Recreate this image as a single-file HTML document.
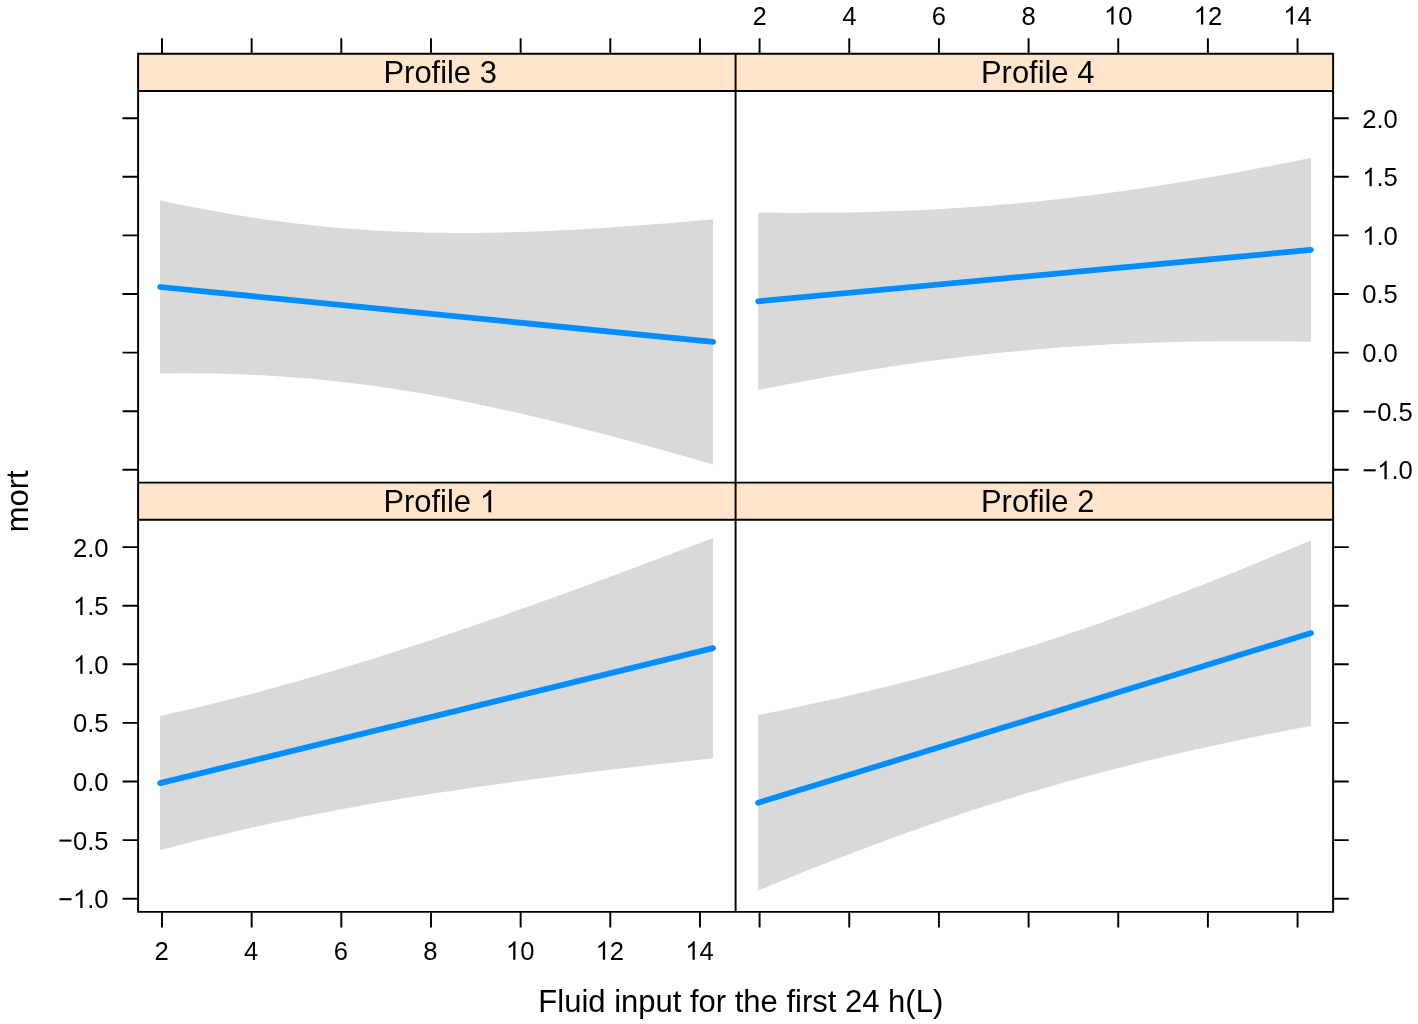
<!DOCTYPE html>
<html><head><meta charset="utf-8"><title>mort vs fluid input</title>
<style>
html,body{margin:0;padding:0;background:#fff;}
body{width:1418px;height:1024px;overflow:hidden;}
svg{display:block;will-change:transform;}
text{font-family:"Liberation Sans",sans-serif;fill:#000;}
.t{font-size:25.6px;}
.l{font-size:31.0px;}
.s{font-size:30.9px;}
.h{fill:none;}
.k{stroke:#000;stroke-width:1.94;fill:none;stroke-linecap:butt;}
</style></head><body>
<svg width="1418" height="1024" viewBox="0 0 1418 1024">
<rect x="0" y="0" width="1418" height="1024" fill="#fff"/>
<rect x="138.1" y="53.75" width="597.50" height="37.25" fill="#FFE5CC"/>
<rect x="138.1" y="482.6" width="597.50" height="37.20" fill="#FFE5CC"/>
<rect x="735.6" y="53.75" width="597.50" height="37.25" fill="#FFE5CC"/>
<rect x="735.6" y="482.6" width="597.50" height="37.20" fill="#FFE5CC"/>
<path d="M160.13,200.54 L167.04,201.99 L173.95,203.42 L180.87,204.81 L187.78,206.18 L194.69,207.52 L201.60,208.84 L208.51,210.12 L215.43,211.37 L222.34,212.58 L229.25,213.77 L236.16,214.92 L243.08,216.04 L249.99,217.13 L256.90,218.18 L263.81,219.19 L270.72,220.17 L277.64,221.12 L284.55,222.03 L291.46,222.90 L298.37,223.73 L305.28,224.53 L312.20,225.29 L319.11,226.02 L326.02,226.70 L332.93,227.35 L339.85,227.96 L346.76,228.54 L353.67,229.08 L360.58,229.58 L367.49,230.04 L374.41,230.47 L381.32,230.86 L388.23,231.22 L395.14,231.54 L402.05,231.83 L408.97,232.08 L415.88,232.30 L422.79,232.49 L429.70,232.64 L436.62,232.77 L443.53,232.86 L450.44,232.92 L457.35,232.95 L464.26,232.95 L471.18,232.93 L478.09,232.88 L485.00,232.80 L491.91,232.69 L498.82,232.56 L505.74,232.40 L512.65,232.22 L519.56,232.02 L526.47,231.79 L533.38,231.55 L540.30,231.28 L547.21,230.99 L554.12,230.68 L561.03,230.35 L567.95,230.00 L574.86,229.63 L581.77,229.25 L588.68,228.84 L595.59,228.43 L602.51,227.99 L609.42,227.54 L616.33,227.08 L623.24,226.60 L630.15,226.11 L637.07,225.60 L643.98,225.08 L650.89,224.55 L657.80,224.00 L664.72,223.45 L671.63,222.88 L678.54,222.30 L685.45,221.71 L692.36,221.11 L699.28,220.50 L706.19,219.88 L713.10,219.25 L713.10,464.45 L706.19,462.45 L699.28,460.46 L692.36,458.48 L685.45,456.51 L678.54,454.54 L671.63,452.59 L664.72,450.65 L657.80,448.73 L650.89,446.81 L643.98,444.91 L637.07,443.02 L630.15,441.14 L623.24,439.27 L616.33,437.42 L609.42,435.59 L602.51,433.77 L595.59,431.96 L588.68,430.17 L581.77,428.40 L574.86,426.64 L567.95,424.91 L561.03,423.19 L554.12,421.49 L547.21,419.80 L540.30,418.14 L533.38,416.50 L526.47,414.88 L519.56,413.29 L512.65,411.71 L505.74,410.16 L498.82,408.63 L491.91,407.13 L485.00,405.65 L478.09,404.20 L471.18,402.78 L464.26,401.38 L457.35,400.01 L450.44,398.67 L443.53,397.36 L436.62,396.08 L429.70,394.84 L422.79,393.62 L415.88,392.44 L408.97,391.28 L402.05,390.17 L395.14,389.08 L388.23,388.03 L381.32,387.02 L374.41,386.04 L367.49,385.10 L360.58,384.19 L353.67,383.32 L346.76,382.48 L339.85,381.69 L332.93,380.93 L326.02,380.21 L319.11,379.52 L312.20,378.87 L305.28,378.26 L298.37,377.69 L291.46,377.15 L284.55,376.65 L277.64,376.19 L270.72,375.77 L263.81,375.37 L256.90,375.02 L249.99,374.70 L243.08,374.41 L236.16,374.16 L229.25,373.94 L222.34,373.76 L215.43,373.60 L208.51,373.48 L201.60,373.39 L194.69,373.33 L187.78,373.30 L180.87,373.30 L173.95,373.33 L167.04,373.38 L160.13,373.46Z" fill="#D9D9D9"/>
<path d="M758.13,212.70 L765.04,212.77 L771.95,212.82 L778.86,212.86 L785.77,212.88 L792.68,212.89 L799.59,212.89 L806.50,212.87 L813.41,212.84 L820.32,212.78 L827.23,212.72 L834.14,212.63 L841.05,212.53 L847.96,212.42 L854.87,212.28 L861.78,212.13 L868.69,211.96 L875.60,211.77 L882.51,211.56 L889.42,211.33 L896.34,211.08 L903.25,210.82 L910.16,210.53 L917.07,210.22 L923.98,209.89 L930.89,209.55 L937.80,209.18 L944.71,208.78 L951.62,208.37 L958.53,207.94 L965.44,207.48 L972.35,207.00 L979.26,206.50 L986.17,205.97 L993.08,205.43 L999.99,204.86 L1006.90,204.27 L1013.81,203.65 L1020.72,203.02 L1027.63,202.36 L1034.54,201.67 L1041.45,200.97 L1048.36,200.24 L1055.27,199.49 L1062.18,198.72 L1069.09,197.92 L1076.00,197.11 L1082.91,196.27 L1089.82,195.41 L1096.73,194.52 L1103.64,193.62 L1110.55,192.69 L1117.46,191.75 L1124.37,190.78 L1131.28,189.79 L1138.19,188.78 L1145.10,187.76 L1152.01,186.71 L1158.92,185.64 L1165.83,184.55 L1172.74,183.45 L1179.66,182.33 L1186.57,181.19 L1193.48,180.03 L1200.39,178.85 L1207.30,177.66 L1214.21,176.45 L1221.12,175.22 L1228.03,173.98 L1234.94,172.72 L1241.85,171.45 L1248.76,170.16 L1255.67,168.85 L1262.58,167.54 L1269.49,166.21 L1276.40,164.86 L1283.31,163.50 L1290.22,162.13 L1297.13,160.75 L1304.04,159.35 L1310.95,157.94 L1310.95,341.86 L1304.04,341.74 L1297.13,341.62 L1290.22,341.52 L1283.31,341.44 L1276.40,341.36 L1269.49,341.30 L1262.58,341.26 L1255.67,341.23 L1248.76,341.21 L1241.85,341.20 L1234.94,341.22 L1228.03,341.24 L1221.12,341.29 L1214.21,341.34 L1207.30,341.42 L1200.39,341.51 L1193.48,341.62 L1186.57,341.74 L1179.66,341.89 L1172.74,342.05 L1165.83,342.23 L1158.92,342.43 L1152.01,342.65 L1145.10,342.88 L1138.19,343.14 L1131.28,343.42 L1124.37,343.72 L1117.46,344.03 L1110.55,344.37 L1103.64,344.73 L1096.73,345.11 L1089.82,345.51 L1082.91,345.94 L1076.00,346.38 L1069.09,346.85 L1062.18,347.34 L1055.27,347.85 L1048.36,348.39 L1041.45,348.95 L1034.54,349.53 L1027.63,350.13 L1020.72,350.75 L1013.81,351.40 L1006.90,352.07 L999.99,352.77 L993.08,353.48 L986.17,354.22 L979.26,354.98 L972.35,355.77 L965.44,356.57 L958.53,357.40 L951.62,358.25 L944.71,359.12 L937.80,360.01 L930.89,360.93 L923.98,361.87 L917.07,362.82 L910.16,363.80 L903.25,364.80 L896.34,365.82 L889.42,366.85 L882.51,367.91 L875.60,368.99 L868.69,370.08 L861.78,371.20 L854.87,372.33 L847.96,373.48 L841.05,374.65 L834.14,375.83 L827.23,377.03 L820.32,378.25 L813.41,379.48 L806.50,380.73 L799.59,382.00 L792.68,383.28 L785.77,384.58 L778.86,385.89 L771.95,387.21 L765.04,388.55 L758.13,389.90Z" fill="#D9D9D9"/>
<path d="M160.13,715.96 L167.04,714.42 L173.95,712.85 L180.87,711.27 L187.78,709.66 L194.69,708.03 L201.60,706.38 L208.51,704.71 L215.43,703.01 L222.34,701.29 L229.25,699.56 L236.16,697.80 L243.08,696.01 L249.99,694.21 L256.90,692.39 L263.81,690.54 L270.72,688.67 L277.64,686.78 L284.55,684.87 L291.46,682.94 L298.37,680.99 L305.28,679.02 L312.20,677.03 L319.11,675.02 L326.02,672.99 L332.93,670.95 L339.85,668.88 L346.76,666.79 L353.67,664.69 L360.58,662.57 L367.49,660.43 L374.41,658.27 L381.32,656.10 L388.23,653.91 L395.14,651.70 L402.05,649.48 L408.97,647.24 L415.88,644.99 L422.79,642.72 L429.70,640.44 L436.62,638.14 L443.53,635.83 L450.44,633.50 L457.35,631.17 L464.26,628.82 L471.18,626.45 L478.09,624.08 L485.00,621.69 L491.91,619.29 L498.82,616.88 L505.74,614.46 L512.65,612.03 L519.56,609.59 L526.47,607.13 L533.38,604.67 L540.30,602.20 L547.21,599.72 L554.12,597.23 L561.03,594.73 L567.95,592.22 L574.86,589.70 L581.77,587.18 L588.68,584.64 L595.59,582.10 L602.51,579.56 L609.42,577.00 L616.33,574.44 L623.24,571.87 L630.15,569.29 L637.07,566.71 L643.98,564.12 L650.89,561.52 L657.80,558.92 L664.72,556.31 L671.63,553.69 L678.54,551.07 L685.45,548.45 L692.36,545.82 L699.28,543.18 L706.19,540.54 L713.10,537.90 L713.10,758.30 L706.19,759.03 L699.28,759.77 L692.36,760.51 L685.45,761.25 L678.54,762.00 L671.63,762.76 L664.72,763.52 L657.80,764.28 L650.89,765.06 L643.98,765.83 L637.07,766.62 L630.15,767.41 L623.24,768.21 L616.33,769.01 L609.42,769.83 L602.51,770.64 L595.59,771.47 L588.68,772.31 L581.77,773.15 L574.86,774.00 L567.95,774.86 L561.03,775.72 L554.12,776.60 L547.21,777.48 L540.30,778.37 L533.38,779.28 L526.47,780.19 L519.56,781.11 L512.65,782.05 L505.74,782.99 L498.82,783.94 L491.91,784.91 L485.00,785.88 L478.09,786.87 L471.18,787.87 L464.26,788.88 L457.35,789.91 L450.44,790.95 L443.53,792.00 L436.62,793.06 L429.70,794.14 L422.79,795.23 L415.88,796.34 L408.97,797.46 L402.05,798.60 L395.14,799.75 L388.23,800.92 L381.32,802.10 L374.41,803.31 L367.49,804.52 L360.58,805.76 L353.67,807.01 L346.76,808.28 L339.85,809.57 L332.93,810.88 L326.02,812.21 L319.11,813.55 L312.20,814.92 L305.28,816.30 L298.37,817.71 L291.46,819.13 L284.55,820.58 L277.64,822.04 L270.72,823.53 L263.81,825.04 L256.90,826.56 L249.99,828.11 L243.08,829.69 L236.16,831.28 L229.25,832.89 L222.34,834.53 L215.43,836.19 L208.51,837.87 L201.60,839.57 L194.69,841.30 L187.78,843.04 L180.87,844.81 L173.95,846.60 L167.04,848.41 L160.13,850.24Z" fill="#D9D9D9"/>
<path d="M758.13,715.10 L765.04,713.71 L771.95,712.31 L778.86,710.89 L785.77,709.46 L792.68,708.01 L799.60,706.54 L806.51,705.06 L813.42,703.56 L820.33,702.05 L827.24,700.52 L834.15,698.97 L841.06,697.40 L847.97,695.81 L854.88,694.21 L861.79,692.59 L868.70,690.94 L875.61,689.28 L882.53,687.60 L889.44,685.89 L896.35,684.17 L903.26,682.42 L910.17,680.66 L917.08,678.87 L923.99,677.06 L930.90,675.23 L937.81,673.37 L944.72,671.49 L951.63,669.59 L958.55,667.67 L965.46,665.72 L972.37,663.75 L979.28,661.75 L986.19,659.73 L993.10,657.69 L1000.01,655.62 L1006.92,653.53 L1013.83,651.41 L1020.74,649.27 L1027.65,647.11 L1034.57,644.92 L1041.48,642.71 L1048.39,640.47 L1055.30,638.21 L1062.21,635.93 L1069.12,633.62 L1076.03,631.29 L1082.94,628.94 L1089.85,626.56 L1096.76,624.16 L1103.67,621.74 L1110.58,619.29 L1117.50,616.83 L1124.41,614.34 L1131.32,611.83 L1138.23,609.30 L1145.14,606.75 L1152.05,604.18 L1158.96,601.59 L1165.87,598.98 L1172.78,596.35 L1179.69,593.70 L1186.60,591.03 L1193.52,588.35 L1200.43,585.64 L1207.34,582.92 L1214.25,580.19 L1221.16,577.43 L1228.07,574.66 L1234.98,571.88 L1241.89,569.08 L1248.80,566.26 L1255.71,563.43 L1262.62,560.58 L1269.53,557.72 L1276.45,554.85 L1283.36,551.96 L1290.27,549.06 L1297.18,546.15 L1304.09,543.23 L1311.00,540.29 L1311.00,725.91 L1304.09,727.22 L1297.18,728.53 L1290.27,729.86 L1283.36,731.21 L1276.45,732.56 L1269.53,733.93 L1262.62,735.32 L1255.71,736.71 L1248.80,738.12 L1241.89,739.55 L1234.98,740.99 L1228.07,742.45 L1221.16,743.92 L1214.25,745.41 L1207.34,746.91 L1200.43,748.44 L1193.52,749.98 L1186.60,751.53 L1179.69,753.11 L1172.78,754.70 L1165.87,756.31 L1158.96,757.95 L1152.05,759.60 L1145.14,761.27 L1138.23,762.96 L1131.32,764.67 L1124.41,766.41 L1117.50,768.16 L1110.58,769.94 L1103.67,771.74 L1096.76,773.56 L1089.85,775.40 L1082.94,777.27 L1076.03,779.16 L1069.12,781.07 L1062.21,783.00 L1055.30,784.96 L1048.39,786.94 L1041.48,788.95 L1034.57,790.98 L1027.65,793.03 L1020.74,795.11 L1013.83,797.22 L1006.92,799.34 L1000.01,801.49 L993.10,803.67 L986.19,805.87 L979.28,808.09 L972.37,810.34 L965.46,812.61 L958.55,814.90 L951.63,817.22 L944.72,819.56 L937.81,821.92 L930.90,824.31 L923.99,826.72 L917.08,829.15 L910.17,831.61 L903.26,834.08 L896.35,836.58 L889.44,839.10 L882.53,841.64 L875.61,844.20 L868.70,846.78 L861.79,849.38 L854.88,852.00 L847.97,854.63 L841.06,857.29 L834.15,859.97 L827.24,862.66 L820.33,865.37 L813.42,868.10 L806.51,870.84 L799.60,873.60 L792.68,876.38 L785.77,879.17 L778.86,881.98 L771.95,884.81 L765.04,887.64 L758.13,890.50Z" fill="#D9D9D9"/>
<path d="M160.13,287.0 L713.1,341.85" stroke="#008DFF" stroke-width="5.75" stroke-linecap="round" fill="none"/>
<path d="M758.13,301.3 L1310.95,249.9" stroke="#008DFF" stroke-width="5.75" stroke-linecap="round" fill="none"/>
<path d="M160.13,783.1 L713.1,648.1" stroke="#008DFF" stroke-width="5.75" stroke-linecap="round" fill="none"/>
<path d="M758.13,802.8 L1311.0,633.1" stroke="#008DFF" stroke-width="5.75" stroke-linecap="round" fill="none"/>
<path class="k" d="M138.1,53.75H1333.1V911.9H138.1Z M735.6,53.75V911.9 M138.1,482.6H1333.1 M138.1,91.0H1333.1 M138.1,519.8H1333.1 M162.00,53.75v-15.6 M759.60,53.75v-15.6 M162.00,911.9v15.6 M759.60,911.9v15.6 M251.66,53.75v-15.6 M849.26,53.75v-15.6 M251.66,911.9v15.6 M849.26,911.9v15.6 M341.32,53.75v-15.6 M938.92,53.75v-15.6 M341.32,911.9v15.6 M938.92,911.9v15.6 M430.98,53.75v-15.6 M1028.58,53.75v-15.6 M430.98,911.9v15.6 M1028.58,911.9v15.6 M520.64,53.75v-15.6 M1118.24,53.75v-15.6 M520.64,911.9v15.6 M1118.24,911.9v15.6 M610.30,53.75v-15.6 M1207.90,53.75v-15.6 M610.30,911.9v15.6 M1207.90,911.9v15.6 M699.96,53.75v-15.6 M1297.56,53.75v-15.6 M699.96,911.9v15.6 M1297.56,911.9v15.6 M138.1,118.20h-15.6 M1333.1,118.20h15.6 M138.1,547.10h-15.6 M1333.1,547.10h15.6 M138.1,176.80h-15.6 M1333.1,176.80h15.6 M138.1,605.70h-15.6 M1333.1,605.70h15.6 M138.1,235.40h-15.6 M1333.1,235.40h15.6 M138.1,664.30h-15.6 M1333.1,664.30h15.6 M138.1,294.00h-15.6 M1333.1,294.00h15.6 M138.1,722.90h-15.6 M1333.1,722.90h15.6 M138.1,352.60h-15.6 M1333.1,352.60h15.6 M138.1,781.50h-15.6 M1333.1,781.50h15.6 M138.1,411.20h-15.6 M1333.1,411.20h15.6 M138.1,840.10h-15.6 M1333.1,840.10h15.6 M138.1,469.80h-15.6 M1333.1,469.80h15.6 M138.1,898.70h-15.6 M1333.1,898.70h15.6"/>
<text class="t" x="759.60" y="24.6" text-anchor="middle">2</text>
<text class="t" x="161.50" y="959.7" text-anchor="middle">2</text>
<text class="t" x="849.26" y="24.6" text-anchor="middle">4</text>
<text class="t" x="251.16" y="959.7" text-anchor="middle">4</text>
<text class="t" x="938.92" y="24.6" text-anchor="middle">6</text>
<text class="t" x="340.82" y="959.7" text-anchor="middle">6</text>
<text class="t" x="1028.58" y="24.6" text-anchor="middle">8</text>
<text class="t" x="430.48" y="959.7" text-anchor="middle">8</text>
<text class="t" x="1118.24" y="24.6" text-anchor="middle"><tspan class="h">1</tspan>0</text>
<text class="t" x="520.14" y="959.7" text-anchor="middle"><tspan class="h">1</tspan>0</text>
<text class="t" x="1207.90" y="24.6" text-anchor="middle"><tspan class="h">1</tspan>2</text>
<text class="t" x="609.80" y="959.7" text-anchor="middle"><tspan class="h">1</tspan>2</text>
<text class="t" x="1297.56" y="24.6" text-anchor="middle"><tspan class="h">1</tspan>4</text>
<text class="t" x="699.46" y="959.7" text-anchor="middle"><tspan class="h">1</tspan>4</text>
<text class="t" x="1362.2" y="127.60" text-anchor="start">2.0</text>
<text class="t" x="108.6" y="556.50" text-anchor="end">2.0</text>
<text class="t" x="1362.2" y="186.20" text-anchor="start"><tspan class="h">1</tspan>.5</text>
<text class="t" x="108.6" y="615.10" text-anchor="end"><tspan class="h">1</tspan>.5</text>
<text class="t" x="1362.2" y="244.80" text-anchor="start"><tspan class="h">1</tspan>.0</text>
<text class="t" x="108.6" y="673.70" text-anchor="end"><tspan class="h">1</tspan>.0</text>
<text class="t" x="1362.2" y="303.40" text-anchor="start">0.5</text>
<text class="t" x="108.6" y="732.30" text-anchor="end">0.5</text>
<text class="t" x="1362.2" y="362.00" text-anchor="start">0.0</text>
<text class="t" x="108.6" y="790.90" text-anchor="end">0.0</text>
<text class="t" x="1362.2" y="420.60" text-anchor="start"><tspan class="h">−</tspan>0.5</text>
<text class="t" x="108.6" y="849.50" text-anchor="end"><tspan class="h">−</tspan>0.5</text>
<text class="t" x="1362.2" y="479.20" text-anchor="start"><tspan class="h">−</tspan><tspan class="h">1</tspan>.0</text>
<text class="t" x="108.6" y="908.10" text-anchor="end"><tspan class="h">−</tspan><tspan class="h">1</tspan>.0</text>
<text class="s" x="440.15" y="83.1" text-anchor="middle">Profile 3</text>
<text class="s" x="1037.65" y="83.1" text-anchor="middle">Profile 4</text>
<text class="s" x="440.15" y="512.3" text-anchor="middle">Profile <tspan class="h">1</tspan></text>
<text class="s" x="1037.65" y="512.3" text-anchor="middle">Profile 2</text>
<text class="l" x="740.8" y="1012.0" text-anchor="middle">Fluid input for the first 24 h(L)</text>
<text class="l" transform="translate(28.3,501.3) rotate(-90)" text-anchor="middle">mort</text>
<path transform="translate(1104.01,24.60) scale(0.012500,-0.012500)" d="M763 0H583V1147Q518 1085 412.5 1023T223 930V1104Q374 1175 487 1276T647 1472H763Z" fill="#000"/>
<path transform="translate(505.91,959.70) scale(0.012500,-0.012500)" d="M763 0H583V1147Q518 1085 412.5 1023T223 930V1104Q374 1175 487 1276T647 1472H763Z" fill="#000"/>
<path transform="translate(1193.67,24.60) scale(0.012500,-0.012500)" d="M763 0H583V1147Q518 1085 412.5 1023T223 930V1104Q374 1175 487 1276T647 1472H763Z" fill="#000"/>
<path transform="translate(595.57,959.70) scale(0.012500,-0.012500)" d="M763 0H583V1147Q518 1085 412.5 1023T223 930V1104Q374 1175 487 1276T647 1472H763Z" fill="#000"/>
<path transform="translate(1283.33,24.60) scale(0.012500,-0.012500)" d="M763 0H583V1147Q518 1085 412.5 1023T223 930V1104Q374 1175 487 1276T647 1472H763Z" fill="#000"/>
<path transform="translate(685.23,959.70) scale(0.012500,-0.012500)" d="M763 0H583V1147Q518 1085 412.5 1023T223 930V1104Q374 1175 487 1276T647 1472H763Z" fill="#000"/>
<path transform="translate(1362.20,186.20) scale(0.012500,-0.012500)" d="M763 0H583V1147Q518 1085 412.5 1023T223 930V1104Q374 1175 487 1276T647 1472H763Z" fill="#000"/>
<path transform="translate(73.01,615.10) scale(0.012500,-0.012500)" d="M763 0H583V1147Q518 1085 412.5 1023T223 930V1104Q374 1175 487 1276T647 1472H763Z" fill="#000"/>
<path transform="translate(1362.20,244.80) scale(0.012500,-0.012500)" d="M763 0H583V1147Q518 1085 412.5 1023T223 930V1104Q374 1175 487 1276T647 1472H763Z" fill="#000"/>
<path transform="translate(73.01,673.70) scale(0.012500,-0.012500)" d="M763 0H583V1147Q518 1085 412.5 1023T223 930V1104Q374 1175 487 1276T647 1472H763Z" fill="#000"/>
<path transform="translate(1362.20,420.60) scale(0.012500,-0.012500)" d="M115 629H1080V795H115Z" fill="#000"/>
<path transform="translate(58.05,849.50) scale(0.012500,-0.012500)" d="M115 629H1080V795H115Z" fill="#000"/>
<path transform="translate(1362.20,479.20) scale(0.012500,-0.012500)" d="M115 629H1080V795H115Z" fill="#000"/>
<path transform="translate(1377.15,479.20) scale(0.012500,-0.012500)" d="M763 0H583V1147Q518 1085 412.5 1023T223 930V1104Q374 1175 487 1276T647 1472H763Z" fill="#000"/>
<path transform="translate(58.05,908.10) scale(0.012500,-0.012500)" d="M115 629H1080V795H115Z" fill="#000"/>
<path transform="translate(73.01,908.10) scale(0.012500,-0.012500)" d="M763 0H583V1147Q518 1085 412.5 1023T223 930V1104Q374 1175 487 1276T647 1472H763Z" fill="#000"/>
<path transform="translate(479.63,512.30) scale(0.015088,-0.015088)" d="M763 0H583V1147Q518 1085 412.5 1023T223 930V1104Q374 1175 487 1276T647 1472H763Z" fill="#000"/>
</svg></body></html>
